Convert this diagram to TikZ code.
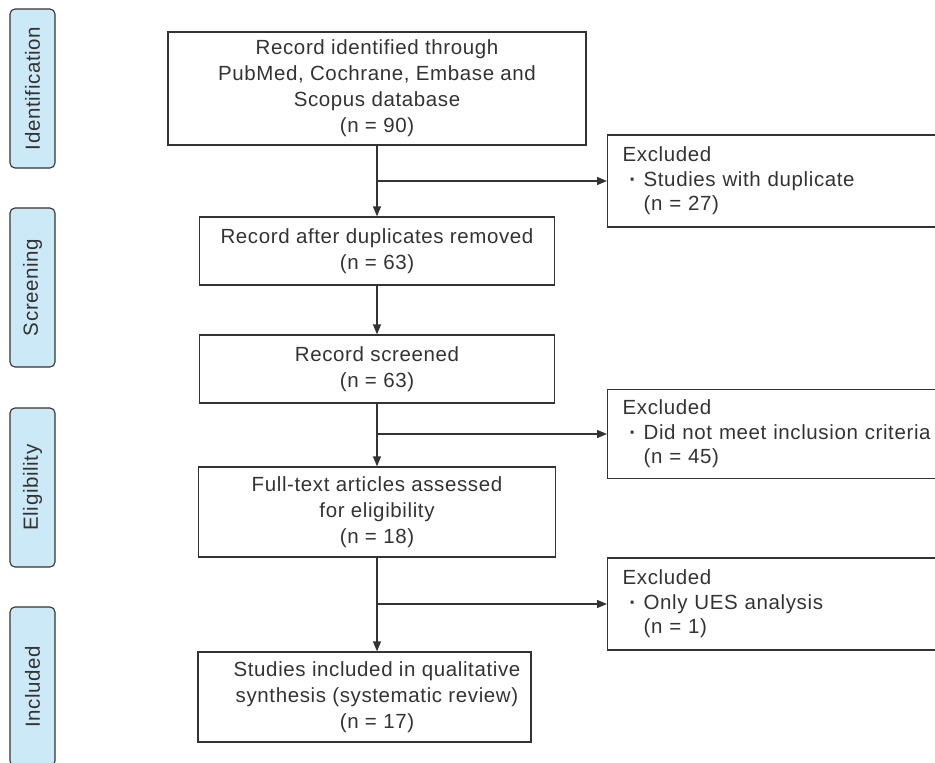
\documentclass[tikz,border=0pt]{standalone}
\usepackage{fontspec}
\setmainfont{Liberation Sans}[LetterSpace=3]
\usetikzlibrary{arrows.meta}
\definecolor{ink}{HTML}{333333}
\definecolor{sidefill}{HTML}{CCE9F7}
\begin{document}
\begin{tikzpicture}[x=1pt,y=-1pt,
  font=\fontsize{20.5}{26}\selectfont,
  every node/.style={text=ink},
  box/.style={draw=ink, line width=1.3pt, rectangle, align=center, inner sep=0pt},
  exbox/.style={draw=ink, line width=1.3pt, rectangle, align=left, anchor=west,
    minimum width=353pt, text width=323pt, inner xsep=15pt, inner ysep=0pt,
    font=\fontsize{20.5}{24.5}\selectfont},
  side/.style={draw=ink, fill=sidefill, line width=1.1pt, rounded corners=5pt,
    rotate=90, minimum width=159pt, minimum height=45pt, inner sep=0pt},
  arr/.style={draw=ink, line width=1.3pt, -{Triangle[length=10pt,width=8pt]}}]
\useasboundingbox (0,0) rectangle (935,763);

% side labels
\node[side] (s1) at (32.5,88.5) {Identification};
\node[side] (s2) at (32.5,287.5) {Screening};
\node[side] (s3) at (32.5,487.5) {Eligibility};
\node[side] (s4) at (32.5,686.5) {Included};

% main boxes
\node[box, minimum width=418pt, minimum height=113pt] (b1) at (377,88.5)
  {Record identified through\\PubMed, Cochrane, Embase and\\Scopus database\\(n = 90)};
\node[box, minimum width=355pt, minimum height=68pt] (b2) at (377,251)
  {Record after duplicates removed\\(n = 63)};
\node[box, minimum width=355pt, minimum height=68pt] (b3) at (377,369)
  {Record screened\\(n = 63)};
\node[box, minimum width=357pt, minimum height=90pt] (b4) at (377,512)
  {Full-text articles assessed\\for eligibility\\(n = 18)};
\node[box, minimum width=333pt, minimum height=90pt] (b5) at (364.5,697) {};
\node[align=center, inner sep=0pt] (b5t) at (377,697)
  {Studies included in qualitative\\synthesis (systematic review)\\(n = 17)};

% excluded boxes
\node[exbox, minimum height=92pt] (e1) at (607,181)
  {Excluded\\\makebox[21pt]{\textbf{·}}Studies with duplicate\\\hspace*{21pt}(n = 27)};
\node[exbox, minimum height=89pt] (e2) at (607,434)
  {Excluded\\\makebox[21pt]{\textbf{·}}Did not meet inclusion criteria\\\hspace*{21pt}(n = 45)};
\node[exbox, minimum height=92pt] (e3) at (607,604)
  {Excluded\\\makebox[21pt]{\textbf{·}}Only UES analysis\\\hspace*{21pt}(n = 1)};

% connectors
\draw[arr] (b1.south) -- (b2.north);
\draw[arr] (b1.south |- e1.west) -- (e1.west);
\draw[arr] (b2.south) -- (b3.north);
\draw[arr] (b3.south) -- (b4.north);
\draw[arr] (b3.south |- e2.west) -- (e2.west);
\draw[arr] (b4.south) -- (b4.south |- b5.north);
\draw[arr] (b4.south |- e3.west) -- (e3.west);
\end{tikzpicture}
\end{document}
